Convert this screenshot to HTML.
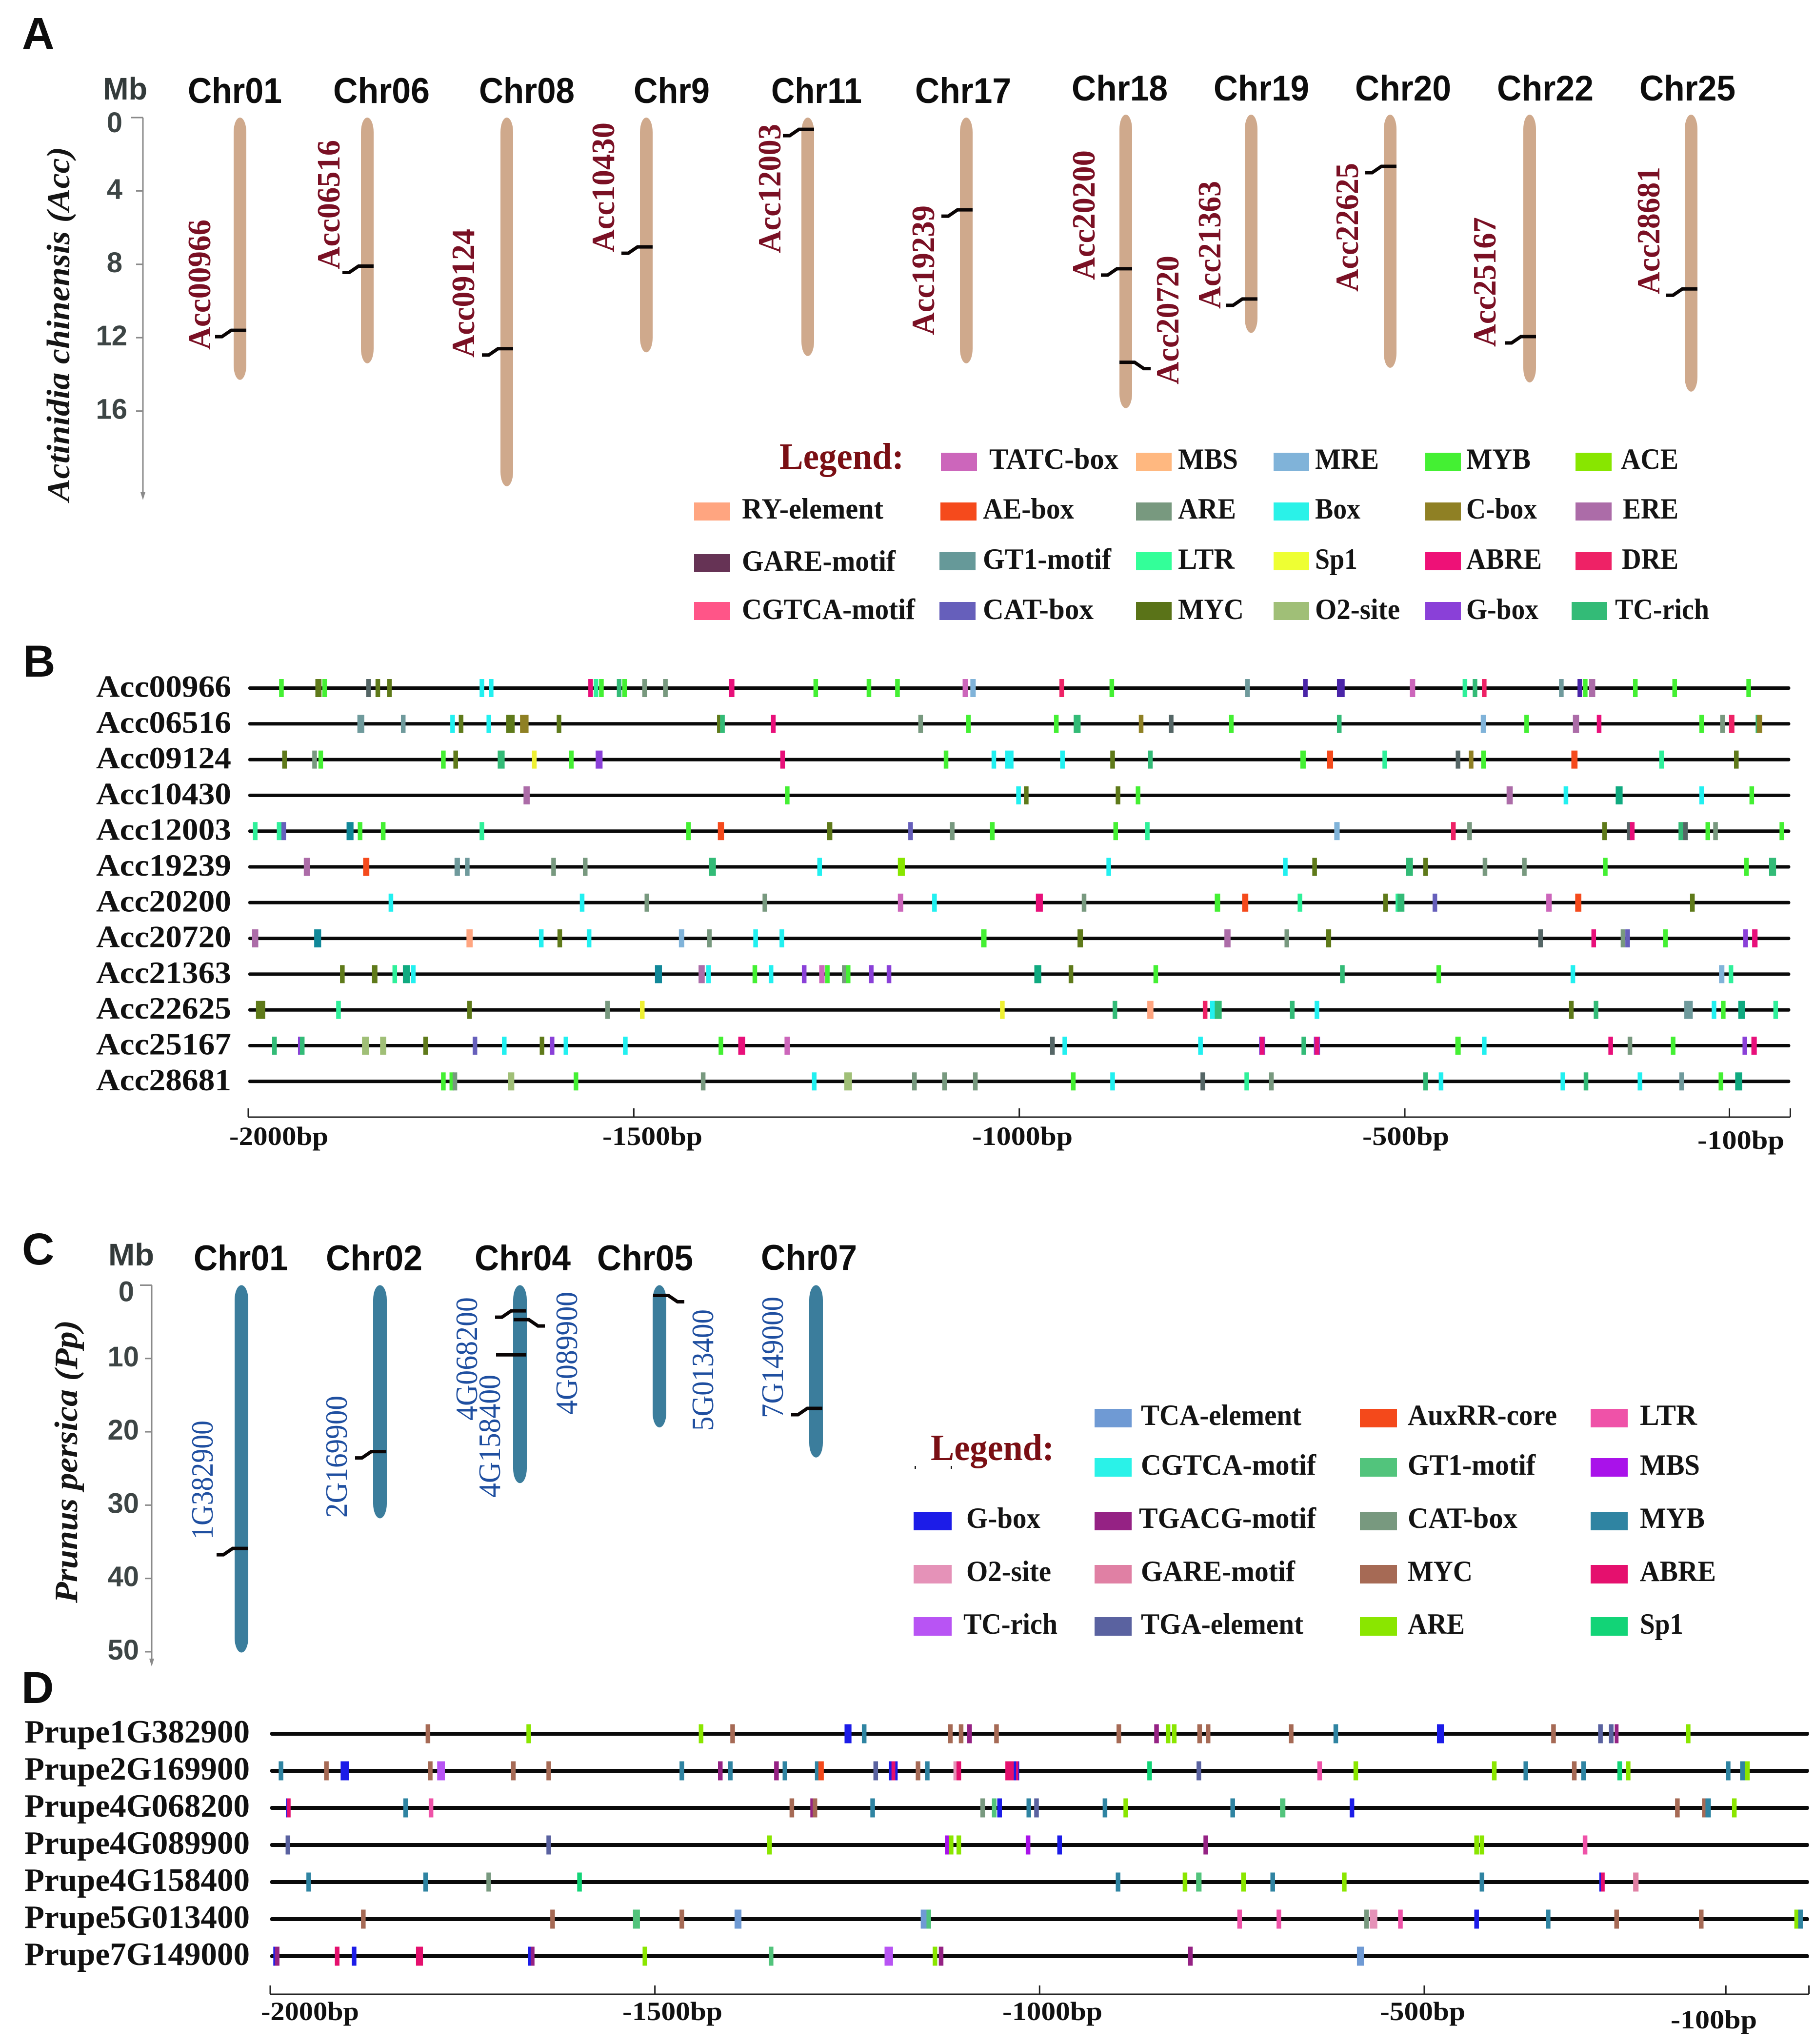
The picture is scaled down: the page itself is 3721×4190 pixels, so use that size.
<!DOCTYPE html>
<html lang="en">
<head>
<meta charset="utf-8">
<title>Chromosome locations and promoter cis-elements</title>
<style>
html,body{margin:0;padding:0;background:#fff}
svg{display:block}
text{font-family:"Liberation Serif",serif;font-weight:bold;fill:#111}
.sans{font-family:"Liberation Sans",sans-serif}
.chr{font-size:73px;fill:#0d0d0d}
.mb{font-size:64px;fill:#333a3a}
.panel{font-size:92px;fill:#0d0d0d}
.title{font-style:italic;font-size:67px;fill:#151515}
.acc{font-size:67px;fill:#7a1024}
.pp{font-size:63px;fill:#1f4fa0;font-weight:normal}
.lgt{font-size:76px;fill:#7a0f14}
.lg{font-size:60px;fill:#141414}
</style>
</head>
<body>
<svg id="figure" xmlns="http://www.w3.org/2000/svg" width="3721" height="4190" viewBox="0 0 3721 4190">
<rect width="3721" height="4190" fill="#fff"/>

<text class="sans panel" x="45" y="100">A</text>
<text class="sans panel" x="47" y="1387">B</text>
<text class="sans panel" x="45" y="2592">C</text>
<text class="sans panel" x="44" y="3491">D</text>

<text class="title" transform="translate(142,1028) rotate(-90)" textLength="727" lengthAdjust="spacingAndGlyphs">Actinidia chinensis (Acc)</text>
<text class="title" transform="translate(158,3286) rotate(-90)" textLength="580" lengthAdjust="spacingAndGlyphs">Prunus persica (Pp)</text>

<text class="sans mb" x="211" y="204" textLength="91" lengthAdjust="spacingAndGlyphs">Mb</text>
<text class="sans mb" x="222" y="2594" textLength="94" lengthAdjust="spacingAndGlyphs">Mb</text>

<g>
<text class="sans chr" x="385" y="211" textLength="193" lengthAdjust="spacingAndGlyphs">Chr01</text>
<text class="sans chr" x="683" y="211" textLength="198" lengthAdjust="spacingAndGlyphs">Chr06</text>
<text class="sans chr" x="982" y="211" textLength="196" lengthAdjust="spacingAndGlyphs">Chr08</text>
<text class="sans chr" x="1299" y="211" textLength="156" lengthAdjust="spacingAndGlyphs">Chr9</text>
<text class="sans chr" x="1581" y="211" textLength="186" lengthAdjust="spacingAndGlyphs">Chr11</text>
<text class="sans chr" x="1876" y="211" textLength="197" lengthAdjust="spacingAndGlyphs">Chr17</text>
<text class="sans chr" x="2197" y="206" textLength="197" lengthAdjust="spacingAndGlyphs">Chr18</text>
<text class="sans chr" x="2488" y="206" textLength="196" lengthAdjust="spacingAndGlyphs">Chr19</text>
<text class="sans chr" x="2778" y="206" textLength="197" lengthAdjust="spacingAndGlyphs">Chr20</text>
<text class="sans chr" x="3069" y="206" textLength="198" lengthAdjust="spacingAndGlyphs">Chr22</text>
<text class="sans chr" x="3361" y="206" textLength="197" lengthAdjust="spacingAndGlyphs">Chr25</text>
</g>

<g>
<text class="sans chr" x="397" y="2604" textLength="193" lengthAdjust="spacingAndGlyphs">Chr01</text>
<text class="sans chr" x="668" y="2604" textLength="198" lengthAdjust="spacingAndGlyphs">Chr02</text>
<text class="sans chr" x="973" y="2604" textLength="197" lengthAdjust="spacingAndGlyphs">Chr04</text>
<text class="sans chr" x="1224" y="2604" textLength="197" lengthAdjust="spacingAndGlyphs">Chr05</text>
<text class="sans chr" x="1560" y="2603" textLength="197" lengthAdjust="spacingAndGlyphs">Chr07</text>
</g>

<g>
<text class="acc" transform="translate(431,717) rotate(-90)" textLength="267" lengthAdjust="spacingAndGlyphs">Acc00966</text>
<text class="acc" transform="translate(696,552) rotate(-90)" textLength="265" lengthAdjust="spacingAndGlyphs">Acc06516</text>
<text class="acc" transform="translate(972,733) rotate(-90)" textLength="264" lengthAdjust="spacingAndGlyphs">Acc09124</text>
<text class="acc" transform="translate(1259,517) rotate(-90)" textLength="266" lengthAdjust="spacingAndGlyphs">Acc10430</text>
<text class="acc" transform="translate(1600,519) rotate(-90)" textLength="265" lengthAdjust="spacingAndGlyphs">Acc12003</text>
<text class="acc" transform="translate(1915,687) rotate(-90)" textLength="266" lengthAdjust="spacingAndGlyphs">Acc19239</text>
<text class="acc" transform="translate(2244,574) rotate(-90)" textLength="266" lengthAdjust="spacingAndGlyphs">Acc20200</text>
<text class="acc" transform="translate(2416,788) rotate(-90)" textLength="264" lengthAdjust="spacingAndGlyphs">Acc20720</text>
<text class="acc" transform="translate(2502,633) rotate(-90)" textLength="262" lengthAdjust="spacingAndGlyphs">Acc21363</text>
<text class="acc" transform="translate(2784,598) rotate(-90)" textLength="264" lengthAdjust="spacingAndGlyphs">Acc22625</text>
<text class="acc" transform="translate(3066,711) rotate(-90)" textLength="266" lengthAdjust="spacingAndGlyphs">Acc25167</text>
<text class="acc" transform="translate(3402,603) rotate(-90)" textLength="261" lengthAdjust="spacingAndGlyphs">Acc28681</text>
</g>

<g>
<text class="pp" transform="translate(436,3156) rotate(-90)" textLength="244" lengthAdjust="spacingAndGlyphs">1G382900</text>
<text class="pp" transform="translate(711,3111) rotate(-90)" textLength="250" lengthAdjust="spacingAndGlyphs">2G169900</text>
<text class="pp" transform="translate(978,2912) rotate(-90)" textLength="253" lengthAdjust="spacingAndGlyphs">4G068200</text>
<text class="pp" transform="translate(1025,3070) rotate(-90)" textLength="252" lengthAdjust="spacingAndGlyphs">4G158400</text>
<text class="pp" transform="translate(1183,2900) rotate(-90)" textLength="252" lengthAdjust="spacingAndGlyphs">4G089900</text>
<text class="pp" transform="translate(1462,2933) rotate(-90)" textLength="249" lengthAdjust="spacingAndGlyphs">5G013400</text>
<text class="pp" transform="translate(1605,2907) rotate(-90)" textLength="249" lengthAdjust="spacingAndGlyphs">7G149000</text>
</g>

<g>
<text class="lgt" x="1598" y="961" textLength="255" lengthAdjust="spacingAndGlyphs">Legend:</text>
<g><rect x="1929" y="928" width="74" height="37" fill="#cc66bb"/><text class="lg" x="2028" y="961" textLength="265" lengthAdjust="spacingAndGlyphs">TATC-box</text></g>
<g><rect x="2329" y="928" width="73" height="37" fill="#ffb880"/><text class="lg" x="2415" y="961" textLength="123" lengthAdjust="spacingAndGlyphs">MBS</text></g>
<g><rect x="2611" y="928" width="73" height="37" fill="#80b3d9"/><text class="lg" x="2696" y="961" textLength="131" lengthAdjust="spacingAndGlyphs">MRE</text></g>
<g><rect x="2922" y="928" width="73" height="37" fill="#44f033"/><text class="lg" x="3006" y="961" textLength="132" lengthAdjust="spacingAndGlyphs">MYB</text></g>
<g><rect x="3230" y="928" width="74" height="37" fill="#88e600"/><text class="lg" x="3323" y="961" textLength="118" lengthAdjust="spacingAndGlyphs">ACE</text></g>
<g><rect x="1423" y="1030" width="74" height="37" fill="#ffa580"/><text class="lg" x="1521" y="1063" textLength="290" lengthAdjust="spacingAndGlyphs">RY-element</text></g>
<g><rect x="1928" y="1030" width="74" height="37" fill="#f54a1c"/><text class="lg" x="2015" y="1063" textLength="187" lengthAdjust="spacingAndGlyphs">AE-box</text></g>
<g><rect x="2329" y="1030" width="73" height="37" fill="#78997f"/><text class="lg" x="2415" y="1063" textLength="119" lengthAdjust="spacingAndGlyphs">ARE</text></g>
<g><rect x="2611" y="1030" width="73" height="37" fill="#2af2e8"/><text class="lg" x="2696" y="1063" textLength="93" lengthAdjust="spacingAndGlyphs">Box</text></g>
<g><rect x="2922" y="1030" width="73" height="37" fill="#8f8024"/><text class="lg" x="3006" y="1063" textLength="145" lengthAdjust="spacingAndGlyphs">C-box</text></g>
<g><rect x="3230" y="1030" width="74" height="37" fill="#ac6ca8"/><text class="lg" x="3327" y="1063" textLength="114" lengthAdjust="spacingAndGlyphs">ERE</text></g>
<g><rect x="1423" y="1136" width="74" height="37" fill="#663355"/><text class="lg" x="1521" y="1170" textLength="315" lengthAdjust="spacingAndGlyphs">GARE-motif</text></g>
<g><rect x="1926" y="1132" width="74" height="37" fill="#669999"/><text class="lg" x="2015" y="1166" textLength="263" lengthAdjust="spacingAndGlyphs">GT1-motif</text></g>
<g><rect x="2329" y="1132" width="73" height="37" fill="#33ff99"/><text class="lg" x="2415" y="1166" textLength="116" lengthAdjust="spacingAndGlyphs">LTR</text></g>
<g><rect x="2611" y="1132" width="73" height="37" fill="#eeff33"/><text class="lg" x="2696" y="1166" textLength="87" lengthAdjust="spacingAndGlyphs">Sp1</text></g>
<g><rect x="2922" y="1132" width="73" height="37" fill="#ee1177"/><text class="lg" x="3006" y="1166" textLength="155" lengthAdjust="spacingAndGlyphs">ABRE</text></g>
<g><rect x="3230" y="1132" width="74" height="37" fill="#ee2266"/><text class="lg" x="3325" y="1166" textLength="116" lengthAdjust="spacingAndGlyphs">DRE</text></g>
<g><rect x="1423" y="1234" width="74" height="37" fill="#ff5588"/><text class="lg" x="1521" y="1269" textLength="355" lengthAdjust="spacingAndGlyphs">CGTCA-motif</text></g>
<g><rect x="1926" y="1234" width="74" height="37" fill="#665fbb"/><text class="lg" x="2015" y="1269" textLength="227" lengthAdjust="spacingAndGlyphs">CAT-box</text></g>
<g><rect x="2329" y="1234" width="73" height="37" fill="#5a7318"/><text class="lg" x="2415" y="1269" textLength="135" lengthAdjust="spacingAndGlyphs">MYC</text></g>
<g><rect x="2611" y="1234" width="73" height="37" fill="#a0bf77"/><text class="lg" x="2696" y="1269" textLength="174" lengthAdjust="spacingAndGlyphs">O2-site</text></g>
<g><rect x="2922" y="1234" width="73" height="37" fill="#8a40d8"/><text class="lg" x="3006" y="1269" textLength="148" lengthAdjust="spacingAndGlyphs">G-box</text></g>
<g><rect x="3222" y="1234" width="73" height="37" fill="#33bb77"/><text class="lg" x="3311" y="1269" textLength="193" lengthAdjust="spacingAndGlyphs">TC-rich</text></g>
</g>

<g>
<text class="lgt" x="1908" y="2993" textLength="253" lengthAdjust="spacingAndGlyphs">Legend:</text>
<rect x="1875" y="3005" width="3" height="6" fill="#222"/>
<rect x="1949" y="3005" width="3" height="6" fill="#222"/>
<g><rect x="2244" y="2888" width="76" height="38" fill="#6f9ad4"/><text class="lg" x="2339" y="2921" textLength="329" lengthAdjust="spacingAndGlyphs">TCA-element</text></g>
<g><rect x="2788" y="2888" width="76" height="38" fill="#f4491b"/><text class="lg" x="2886" y="2921" textLength="306" lengthAdjust="spacingAndGlyphs">AuxRR-core</text></g>
<g><rect x="3261" y="2888" width="76" height="38" fill="#ef52a8"/><text class="lg" x="3362" y="2921" textLength="117" lengthAdjust="spacingAndGlyphs">LTR</text></g>
<g><rect x="2244" y="2989" width="76" height="38" fill="#2af2e8"/><text class="lg" x="2339" y="3023" textLength="359" lengthAdjust="spacingAndGlyphs">CGTCA-motif</text></g>
<g><rect x="2788" y="2989" width="76" height="38" fill="#52c47c"/><text class="lg" x="2886" y="3023" textLength="262" lengthAdjust="spacingAndGlyphs">GT1-motif</text></g>
<g><rect x="3261" y="2989" width="76" height="38" fill="#a912ea"/><text class="lg" x="3362" y="3023" textLength="123" lengthAdjust="spacingAndGlyphs">MBS</text></g>
<g><rect x="1873" y="3099" width="78" height="38" fill="#1c1ce8"/><text class="lg" x="1981" y="3132" textLength="152" lengthAdjust="spacingAndGlyphs">G-box</text></g>
<g><rect x="2244" y="3099" width="76" height="38" fill="#952284"/><text class="lg" x="2335" y="3132" textLength="363" lengthAdjust="spacingAndGlyphs">TGACG-motif</text></g>
<g><rect x="2788" y="3099" width="76" height="38" fill="#78997f"/><text class="lg" x="2886" y="3132" textLength="225" lengthAdjust="spacingAndGlyphs">CAT-box</text></g>
<g><rect x="3261" y="3099" width="76" height="38" fill="#2f84a2"/><text class="lg" x="3362" y="3132" textLength="133" lengthAdjust="spacingAndGlyphs">MYB</text></g>
<g><rect x="1873" y="3208" width="78" height="38" fill="#e592b8"/><text class="lg" x="1981" y="3241" textLength="174" lengthAdjust="spacingAndGlyphs">O2-site</text></g>
<g><rect x="2244" y="3208" width="76" height="38" fill="#e080a4"/><text class="lg" x="2339" y="3241" textLength="316" lengthAdjust="spacingAndGlyphs">GARE-motif</text></g>
<g><rect x="2788" y="3208" width="76" height="38" fill="#a66a55"/><text class="lg" x="2886" y="3241" textLength="133" lengthAdjust="spacingAndGlyphs">MYC</text></g>
<g><rect x="3261" y="3208" width="76" height="38" fill="#e5106e"/><text class="lg" x="3362" y="3241" textLength="156" lengthAdjust="spacingAndGlyphs">ABRE</text></g>
<g><rect x="1873" y="3315" width="78" height="38" fill="#b854f4"/><text class="lg" x="1975" y="3349" textLength="193" lengthAdjust="spacingAndGlyphs">TC-rich</text></g>
<g><rect x="2244" y="3315" width="76" height="38" fill="#5a62a0"/><text class="lg" x="2339" y="3349" textLength="333" lengthAdjust="spacingAndGlyphs">TGA-element</text></g>
<g><rect x="2788" y="3315" width="76" height="38" fill="#8ae600"/><text class="lg" x="2886" y="3349" textLength="117" lengthAdjust="spacingAndGlyphs">ARE</text></g>
<g><rect x="3261" y="3315" width="76" height="38" fill="#12d477"/><text class="lg" x="3362" y="3349" textLength="89" lengthAdjust="spacingAndGlyphs">Sp1</text></g>
</g>
</svg>

<script>
// ---------- Panel A data ----------
const accChrLengths = [14.3, 13.4, 20.1, 12.8, 13, 13.4, 16, 11.9, 13.8, 14.6, 15.1];
const accGeneChr = [0, 1, 2, 3, 4, 5, 6, 6, 7, 8, 9, 10];
const accGeneMb = [11.6, 8.1, 12.6, 7.05, 0.64, 5.03, 8.4, 13.5, 10.05, 2.82, 12.1, 9.5];
const accGeneSide = ['L', 'L', 'L', 'L', 'L', 'L', 'L', 'R', 'L', 'L', 'L', 'L'];
const accAxisTicks = [0, 4, 8, 12, 16];

// ---------- Panel C data ----------
const ppChrLengths = [50.1, 31.8, 27, 19.4, 23.5];
const ppGeneChr = [0, 1, 2, 2, 2, 3, 4];
const ppGeneMb = [35.9, 22.7, 3.5, 4.7, 9.5, 1.4, 16.8];
const ppGeneSide = ['L', 'L', 'L', 'R', 'P', 'R', 'L'];
const ppAxisTicks = [0, 10, 20, 30, 40, 50];

// ---------- Panel B data ----------
const accGenes = ['Acc00966','Acc06516','Acc09124','Acc10430','Acc12003','Acc19239','Acc20200','Acc20720','Acc21363','Acc22625','Acc25167','Acc28681'];
const bTickValues = [-2000, -1500, -1000, -500, -79];
const bTickLabels = ['-2000bp', '-1500bp', '-1000bp', '-500bp', '-100bp'];
const accColors = {TATC:'#cc66bb',MRE:'#80b3d9',MYB:'#44f033',ACE:'#88e600',RY:'#ffa580',AE:'#f54a1c',ARE:'#78997f',Box:'#22f0f0',CB:'#8f8024',ERE:'#ac6ca8',GT1:'#6f9a9c',LTR:'#2ff09a',Sp1:'#eef033',ABRE:'#e8107a',DRE:'#ee2266',CAT:'#665fbb',MYC:'#5f7a1a',O2:'#a0bf77',G:'#8a40d8',TC:'#33bb77',DK:'#556666',IN:'#4a25a8',T1:'#118899',T2:'#10aa80'};
const accSites = [
 [[-1957,'MYB'],[-1909,'MYC',8],[-1901,'MYB'],[-1844,'DK'],[-1832,'MYC'],[-1817,'MYC'],[-1697,'Box'],[-1685,'Box'],[-1556,'ABRE'],[-1549,'LTR'],[-1542,'MYB'],[-1519,'TC'],[-1512,'MYB'],[-1486,'ARE'],[-1459,'ARE'],[-1373,'ABRE',7],[-1264,'MYB'],[-1195,'MYB'],[-1158,'MYB'],[-1070,'TATC',7],[-1060,'MRE',7],[-945,'DRE'],[-880,'MYB'],[-704,'GT1'],[-629,'IN'],[-583,'IN',10],[-490,'TATC',7],[-422,'LTR'],[-409,'TC'],[-397,'DRE'],[-297,'GT1'],[-273,'IN'],[-266,'MYB'],[-257,'ERE',8],[-201,'MYB'],[-150,'MYB'],[-54,'MYB']],
 [[-1854,'GT1',9],[-1799,'GT1'],[-1735,'Box'],[-1724,'MYC'],[-1688,'Box'],[-1660,'MYC',11],[-1642,'CB',11],[-1597,'MYC'],[-1390,'MYC',4],[-1385,'TC'],[-1319,'ABRE'],[-1128,'ARE'],[-1066,'MYB'],[-952,'MYB'],[-925,'TC',9],[-842,'CB'],[-803,'DK'],[-725,'MYB'],[-585,'TC'],[-398,'MRE',7],[-342,'MYB'],[-278,'ERE',8],[-248,'ABRE'],[-115,'MYB'],[-88,'ARE'],[-76,'DRE',7],[-43,'TC',4],[-40,'CB',7]],
 [[-1953,'MYC'],[-1914,'ARE'],[-1906,'MYB'],[-1747,'MYB'],[-1731,'MYC'],[-1672,'TC',9],[-1629,'Sp1'],[-1581,'MYB'],[-1545,'G',9],[-1307,'ABRE'],[-1095,'MYB'],[-1033,'Box'],[-1013,'Box',11],[-944,'Box'],[-879,'MYC'],[-830,'TC'],[-632,'MYB',7],[-597,'AE',8],[-526,'LTR'],[-431,'DK'],[-414,'CB'],[-398,'MYB'],[-280,'AE',8],[-167,'LTR'],[-70,'MYC']],
 [[-1639,'ERE',8],[-1301,'MYB'],[-1001,'Box'],[-991,'MYC'],[-872,'MYC'],[-846,'MYB'],[-364,'ERE',8],[-291,'Box'],[-222,'T2',9],[-115,'Box'],[-50,'MYB']],
 [[-1991,'LTR'],[-1960,'LTR'],[-1954,'CAT'],[-1868,'T1',9],[-1855,'MYB'],[-1825,'MYB'],[-1697,'LTR'],[-1429,'MYB'],[-1387,'AE',8],[-1246,'MYC',7],[-1141,'CAT'],[-1087,'ARE'],[-1035,'MYB'],[-875,'MYB'],[-834,'LTR'],[-588,'MRE',7],[-437,'DRE'],[-416,'ARE'],[-241,'MYC'],[-209,'DK'],[-205,'ABRE'],[-142,'TC'],[-136,'DK'],[-107,'MYB'],[-97,'ARE'],[-11,'MYB']],
 [[-1924,'ERE',8],[-1847,'AE',8],[-1729,'GT1',7],[-1716,'GT1'],[-1604,'ARE'],[-1563,'ARE'],[-1398,'TC',9],[-1259,'Box'],[-1153,'ACE',9],[-884,'Box'],[-655,'Box'],[-617,'MYC'],[-494,'TC',9],[-473,'MYC'],[-396,'ARE'],[-345,'ARE'],[-240,'MYB'],[-57,'MYB'],[-23,'TC',9]],
 [[-1815,'Box'],[-1567,'Box'],[-1483,'ARE'],[-1330,'ARE'],[-1154,'TATC',7],[-1110,'Box'],[-974,'ABRE',9],[-916,'ARE'],[-743,'MYB',7],[-707,'AE',8],[-636,'LTR'],[-525,'MYC'],[-510,'LTR',4],[-505,'TC',9],[-461,'CAT'],[-313,'TATC',7],[-275,'AE',8],[-127,'MYC']],
 [[-1991,'ERE',8],[-1910,'T1',9],[-1713,'RY',8],[-1620,'Box'],[-1596,'MYC'],[-1558,'Box'],[-1438,'MRE',7],[-1402,'ARE'],[-1342,'Box'],[-1308,'Box'],[-1046,'MYB',7],[-921,'MYC',7],[-730,'ERE',8],[-653,'ARE'],[-599,'MYC',7],[-324,'DK'],[-255,'ABRE'],[-217,'ARE'],[-211,'CAT'],[-162,'MYB'],[-58,'G'],[-46,'ABRE',7]],
 [[-1878,'MYC'],[-1836,'MYC',7],[-1810,'LTR'],[-1795,'T2',9],[-1786,'Box'],[-1468,'T1',9],[-1412,'ERE',8],[-1403,'Box'],[-1343,'MYB'],[-1322,'Box'],[-1279,'G'],[-1256,'TATC',7],[-1249,'MYB'],[-1227,'ARE'],[-1222,'MYB'],[-1192,'G'],[-1169,'G'],[-976,'T2',9],[-933,'MYC'],[-823,'MYB'],[-581,'TC'],[-456,'MYB'],[-282,'Box'],[-89,'MRE',7],[-77,'LTR']],
 [[-1984,'MYC',12],[-1883,'LTR'],[-1713,'MYC'],[-1534,'ARE'],[-1489,'Sp1'],[-1022,'Sp1'],[-876,'TC'],[-830,'RY',8],[-759,'DRE'],[-749,'Box',7],[-742,'TC',9],[-646,'TC'],[-614,'Box'],[-284,'MYC'],[-252,'TC'],[-132,'GT1',11],[-99,'Box'],[-87,'MYB'],[-63,'T2',9],[-19,'LTR']],
 [[-1966,'TC'],[-1934,'G',3],[-1930,'TC'],[-1848,'O2',9],[-1825,'O2',8],[-1770,'MYC'],[-1706,'CAT'],[-1668,'Box'],[-1619,'MYC'],[-1606,'G'],[-1588,'Box'],[-1511,'Box'],[-1387,'MYB'],[-1360,'ABRE',9],[-1301,'TATC',7],[-957,'DK'],[-941,'Box'],[-765,'Box'],[-685,'G',8],[-685,'ABRE',6],[-631,'TC'],[-614,'G',8],[-614,'ABRE',6],[-431,'MYB',7],[-397,'Box'],[-233,'ABRE'],[-208,'ARE'],[-152,'MYB'],[-59,'G'],[-47,'ABRE',7]],
 [[-1747,'MYB'],[-1736,'MYB'],[-1732,'ARE'],[-1659,'O2',8],[-1575,'MYB'],[-1410,'ARE'],[-1266,'Box'],[-1222,'O2',10],[-1136,'ARE'],[-1097,'ARE'],[-1057,'ARE'],[-930,'MYB'],[-879,'Box'],[-762,'DK'],[-705,'LTR'],[-673,'ARE'],[-473,'TC'],[-453,'Box'],[-295,'Box'],[-265,'TC'],[-195,'Box'],[-141,'GT1'],[-90,'MYB'],[-67,'T2',9]]
];

// ---------- Panel D data ----------
const ppGenes = ['Prupe1G382900','Prupe2G169900','Prupe4G068200','Prupe4G089900','Prupe4G158400','Prupe5G013400','Prupe7G149000'];
const dTickValues = [-2000, -1500, -1000, -500, -108];
const dTickLabels = ['-2000bp', '-1500bp', '-1000bp', '-500bp', '-100bp'];
const ppColors = {MYC:'#a66a55',ARE:'#8ae600',G:'#1c1ce8',MYB:'#2f84a2',TGACG:'#952284',TGA:'#5a62a0',CAT:'#78997f',GT1:'#52c47c',Aux:'#f4491b',MBS:'#a912ea',TC:'#b854f4',LTR:'#ef52a8',ABRE:'#e5106e',Sp1:'#12d477',TCA:'#6f9ad4',O2:'#e592b8',GARE:'#e080a4'};
const ppSites = [
 [[-1795,'MYC'],[-1664,'ARE'],[-1440,'ARE'],[-1399,'MYC'],[-1249,'G',9],[-1228,'MYB'],[-1116,'MYC'],[-1102,'MYC'],[-1091,'TGACG'],[-1056,'MYC'],[-897,'MYC'],[-848,'TGACG'],[-833,'ARE'],[-825,'ARE'],[-792,'MYC'],[-781,'MYC'],[-673,'MYC'],[-615,'MYB'],[-479,'G',9],[-332,'MYC'],[-271,'TGA'],[-257,'TGA'],[-250,'TGACG',5],[-157,'ARE']],
 [[-1986,'MYB'],[-1927,'MYC'],[-1903,'G',11],[-1792,'MYC'],[-1778,'TC',10],[-1684,'MYC'],[-1638,'MYC'],[-1465,'MYB'],[-1415,'TGACG'],[-1402,'MYB'],[-1342,'TGACG'],[-1331,'MYB'],[-1289,'MYB'],[-1284,'Aux',7],[-1213,'TGA'],[-1194,'G',4],[-1190,'ABRE',5],[-1186,'G',3],[-1158,'MYC'],[-1146,'MYB'],[-1110,'O2',4],[-1105,'ABRE'],[-1041,'ABRE',7],[-1035,'ABRE',6],[-1030,'G',7],[-1029,'ABRE',3],[-857,'Sp1'],[-793,'TGA'],[-636,'LTR'],[-589,'ARE'],[-409,'ARE'],[-368,'MYB'],[-305,'MYC'],[-293,'MYB'],[-246,'Sp1'],[-235,'ARE'],[-105,'MYB'],[-86,'MYB',7],[-80,'ARE']],
 [[-1978,'G',3],[-1976,'ABRE',5],[-1824,'MYB'],[-1791,'LTR'],[-1322,'MYC'],[-1296,'TGACG',4],[-1292,'MYC'],[-1217,'MYB'],[-1074,'CAT'],[-1059,'GT1'],[-1052,'G'],[-1014,'MYB'],[-1004,'TGA'],[-915,'MYB'],[-888,'ARE'],[-749,'MYB'],[-684,'GT1',7],[-594,'G'],[-171,'MYC'],[-136,'MYC'],[-131,'MYB',7],[-97,'ARE']],
 [[-1977,'TGA'],[-1638,'TGA'],[-1351,'ARE'],[-1120,'MBS'],[-1115,'ARE'],[-1105,'ARE'],[-1015,'MBS'],[-974,'G'],[-784,'TGACG'],[-432,'ARE'],[-425,'ARE'],[-291,'LTR']],
 [[-1950,'MYB'],[-1798,'MYB'],[-1716,'CAT'],[-1598,'Sp1'],[-898,'MYB'],[-811,'ARE'],[-793,'GT1',7],[-735,'ARE'],[-697,'MYB'],[-604,'ARE'],[-425,'MYB'],[-271,'G',3],[-268,'ABRE',5],[-225,'GARE',7]],
 [[-1879,'MYC'],[-1633,'MYC'],[-1524,'GT1',9],[-1465,'MYC'],[-1392,'TCA',9],[-1150,'TCA',9],[-1144,'GT1'],[-740,'LTR'],[-689,'LTR'],[-575,'CAT'],[-566,'O2',10],[-531,'LTR'],[-432,'G'],[-339,'MYB'],[-250,'MYC'],[-140,'MYC'],[-16,'ARE'],[-11,'MYB']],
 [[-1994,'G',4],[-1991,'TGACG',6],[-1913,'ABRE'],[-1891,'G'],[-1806,'ABRE',9],[-1663,'G',4],[-1659,'TGACG',5],[-1513,'ARE'],[-1349,'GT1'],[-1196,'TC',11],[-1136,'ARE'],[-1128,'TGACG'],[-804,'TGACG'],[-583,'TCA',9]]
];

// ---------- drawing ----------
const SVGNS = 'http://www.w3.org/2000/svg';
const figure = document.getElementById('figure');
function add(tag, attrs, parent, txt) {
  const el = document.createElementNS(SVGNS, tag);
  for (const k in attrs) el.setAttribute(k, attrs[k]);
  if (txt !== undefined) el.textContent = txt;
  (parent || figure).appendChild(el);
  return el;
}

function drawKaryo(lengths, geneChr, geneMb, geneSide, ticks, opt) {
  const yOf = mb => opt.top + mb * opt.pxPerMb;
  const g = add('g', {}, figure);
  
  
  const spine = add('line', {x1: opt.axisX, x2: opt.axisX, y1: yOf(0), y2: opt.axisEnd - 14, stroke: '#8a8a8a', 'stroke-width': 3}, g);
  
  
  const head = add('path', {d: `M${opt.axisX - 5} ${opt.axisEnd - 16}H${opt.axisX + 5}L${opt.axisX} ${opt.axisEnd}Z`, fill: '#8a8a8a'}, g);
  
  
  ticks.forEach((t, i) => {
    const y = yOf(t);
    const tick = add('line', {x1: opt.axisX - (i === 0 ? 24 : 14), x2: opt.axisX, y1: y, y2: y, stroke: '#8a8a8a', 'stroke-width': 3}, g);
    
    
    const label = add('text', {class: 'sans', x: opt.labelRight(i), y: y + (i === 0 ? opt.zeroDrop : 16), 'text-anchor': 'end', 'font-size': 58, style: 'fill:#3d4545'}, g, String(t));
    
    
  });
  lengths.forEach((len, i) => {
    const cx = opt.centers[i], top = yOf(0) + opt.offset(i);
    const bar = add('rect', {x: cx - opt.w / 2, y: top, width: opt.w, height: len * opt.pxPerMb, rx: opt.w / 2, ry: 30, fill: opt.color}, g);
    
    
  });
  geneMb.forEach((mb, i) => {
    const c = geneChr[i], cx = opt.centers[c], y = yOf(mb) + opt.offset(c), s = geneSide[i];
    let d;
    if (s === 'L') d = `M${cx + 13} ${y}H${cx - 18}L${cx - 37} ${y + 13}H${cx - 51}`;
    else if (s === 'R') d = `M${cx - 13} ${y}H${cx + 18}L${cx + 37} ${y + 13}H${cx + 51}`;
    else d = `M${cx + 13} ${y}H${cx - 49}`;
    const flag = add('path', {d: d, fill: 'none', stroke: '#0a0505', 'stroke-width': 7}, g);
    
    
  });
}

function drawPromoters(genes, sites, colors, tickValues, tickLabels, opt) {
  const xOf = bp => opt.x0 + (bp + 2000) * opt.pxPerBp;
  const yOf = i => opt.y0 + i * opt.rowStep;
  const g = add('g', {}, figure);
  
  
  genes.forEach((name, i) => {
    const y = yOf(i);
    const label = add('text', {x: opt.labelX, y: y + 18, 'font-size': opt.labelFont, textLength: opt.labelW, lengthAdjust: 'spacingAndGlyphs'}, g, name);
    
    
    const line = add('rect', {x: xOf(-2000), y: y - opt.lineH / 2, width: xOf(0) - xOf(-2000), height: opt.lineH, rx: 3, fill: '#0a0a0a'}, g);
    
    
    sites[i].forEach(s => {
      const len = s[2] || 6;
      const mark = add('rect', {x: xOf(s[0] - len / 2), y: y - opt.markH / 2, width: len * opt.pxPerBp, height: opt.markH, fill: colors[s[1]]}, g);
      
      
    });
  });
  const base = add('line', {x1: xOf(-2000), x2: xOf(0), y1: opt.axisY, y2: opt.axisY, stroke: '#222', 'stroke-width': 3}, g);
  
  
  const endTick = add('line', {x1: xOf(0), x2: xOf(0), y1: opt.axisY - 18, y2: opt.axisY, stroke: '#222', 'stroke-width': 3}, g);
  
  
  tickValues.forEach((v, i) => {
    const tick = add('line', {x1: xOf(v), x2: xOf(v), y1: opt.axisY - 18, y2: opt.axisY, stroke: '#222', 'stroke-width': 3}, g);
    
    
    const lab = add('text', {x: opt.tickLeft[i], y: opt.tickBase[i], 'font-size': 54, textLength: opt.tickW[i], lengthAdjust: 'spacingAndGlyphs'}, g, tickLabels[i]);
    
    
  });
}

drawKaryo(accChrLengths, accGeneChr, accGeneMb, accGeneSide, accAxisTicks, {
  top: 241, pxPerMb: 37.6, axisX: 293, axisEnd: 1025, w: 26, color: '#cfa98c', zeroDrop: 30,
  centers: [492, 753, 1039, 1325, 1656, 1981, 2308, 2565, 2850, 3136, 3467],
  offset: i => (i >= 6 ? -6 : 0),
  labelRight: i => (i < 3 ? 251 : 261)
});
drawKaryo(ppChrLengths, ppGeneChr, ppGeneMb, ppGeneSide, ppAxisTicks, {
  top: 2634.5, pxPerMb: 15.03, axisX: 311, axisEnd: 3416, w: 28, color: '#3b7d9c', zeroDrop: 33,
  centers: [495, 779, 1066, 1352, 1673],
  offset: i => 0,
  labelRight: i => (i === 0 ? 275 : 285)
});
drawPromoters(accGenes, accSites, accColors, bTickValues, bTickLabels, {
  x0: 509, pxPerBp: 1.5807, y0: 1410.5, rowStep: 73.3, markH: 37, lineH: 7, axisY: 2290,
  labelX: 197, labelW: 277, labelFont: 63,
  tickLeft: [470, 1235, 1993, 2793, 3480], tickW: [203, 205, 206, 178, 178],
  tickBase: [2347, 2347, 2347, 2347, 2355]
});
drawPromoters(ppGenes, ppSites, ppColors, dTickValues, dTickLabels, {
  x0: 554, pxPerBp: 1.5773, y0: 3554, rowStep: 76, markH: 39, lineH: 8, axisY: 4088,
  labelX: 50, labelW: 462, labelFont: 67,
  tickLeft: [535, 1276, 2055, 2829, 3425], tickW: [201, 205, 205, 175, 177],
  tickBase: [4141, 4141, 4141, 4141, 4158]
});
</script>
</body>
</html>
